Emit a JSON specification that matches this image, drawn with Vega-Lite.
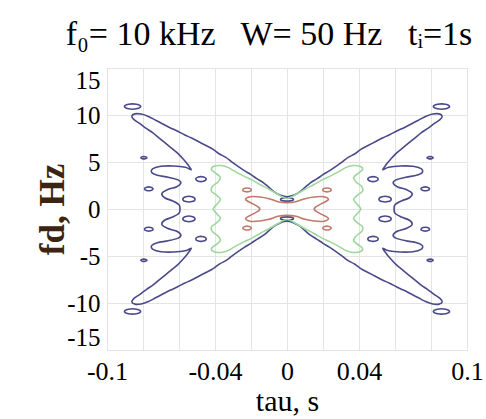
{
"$schema": "https://vega.github.io/schema/vega-lite/v6.json",
"autosize": {"type": "none"},
"padding": {"left": 107, "top": 68, "right": 19, "bottom": 69},
"width": 360,
"height": 282,
"title": {"text": "f₀= 10 kHz \u00a0 W= 50 Hz \u00a0 tᵢ=1s", "font": "Liberation Serif", "fontSize": 34, "fontWeight": "normal", "color": "#000000", "anchor": "middle", "dx": -18, "offset": 16},
"config": {"view": {"stroke": "#bdbdbd"}, "font": "Liberation Serif"},
"data": {"values": [
{"c":"m","k":"b","x":0,"y":1.31},{"c":"m","k":"b","x":-0.0035,"y":1.45},{"c":"m","k":"b","x":-0.0065,"y":1.75},{"c":"m","k":"b","x":-0.01,"y":2.3},{"c":"m","k":"b","x":-0.013,"y":2.78},{"c":"m","k":"b","x":-0.0165,"y":3.2},{"c":"m","k":"b","x":-0.02,"y":3.65},{"c":"m","k":"b","x":-0.0235,"y":4.05},{"c":"m","k":"b","x":-0.027,"y":4.5},{"c":"m","k":"b","x":-0.0305,"y":4.98},{"c":"m","k":"b","x":-0.034,"y":5.5},{"c":"m","k":"b","x":-0.0375,"y":5.85},{"c":"m","k":"b","x":-0.041,"y":6.35},{"c":"m","k":"b","x":-0.045,"y":6.75},{"c":"m","k":"b","x":-0.049,"y":7.15},{"c":"m","k":"b","x":-0.053,"y":7.55},{"c":"m","k":"b","x":-0.057,"y":7.9},{"c":"m","k":"b","x":-0.061,"y":8.3},{"c":"m","k":"b","x":-0.065,"y":8.65},{"c":"m","k":"b","x":-0.069,"y":9.05},{"c":"m","k":"b","x":-0.073,"y":9.45},{"c":"m","k":"b","x":-0.077,"y":9.85},{"c":"m","k":"b","x":-0.081,"y":10.1},{"c":"m","k":"b","x":-0.0845,"y":10.12},{"c":"m","k":"b","x":-0.0862,"y":9.88},
{"c":"m","k":"b","x":-0.085,"y":9.5},{"c":"m","k":"b","x":-0.0815,"y":9.05},{"c":"m","k":"b","x":-0.078,"y":8.55},{"c":"m","k":"b","x":-0.0745,"y":8.1},{"c":"m","k":"b","x":-0.071,"y":7.55},{"c":"m","k":"b","x":-0.0675,"y":7.0},{"c":"m","k":"b","x":-0.064,"y":6.45},{"c":"m","k":"b","x":-0.0605,"y":5.9},{"c":"m","k":"b","x":-0.0578,"y":5.35},{"c":"m","k":"b","x":-0.0552,"y":4.75},{"c":"m","k":"b","x":-0.0532,"y":4.18},
{"c":"m","k":"b","x":-0.0565,"y":4.45},{"c":"m","k":"b","x":-0.063,"y":4.58},{"c":"m","k":"b","x":-0.07,"y":4.55},{"c":"m","k":"b","x":-0.0745,"y":4.3},{"c":"m","k":"b","x":-0.0752,"y":3.9},{"c":"m","k":"b","x":-0.072,"y":3.58},{"c":"m","k":"b","x":-0.066,"y":3.38},{"c":"m","k":"b","x":-0.0605,"y":3.1},{"c":"m","k":"b","x":-0.059,"y":2.75},{"c":"m","k":"b","x":-0.0615,"y":2.35},{"c":"m","k":"b","x":-0.0665,"y":2.05},{"c":"m","k":"b","x":-0.0695,"y":1.65},{"c":"m","k":"b","x":-0.068,"y":1.2},{"c":"m","k":"b","x":-0.0635,"y":0.85},{"c":"m","k":"b","x":-0.06,"y":0.45},{"c":"m","k":"b","x":-0.0595,"y":0},
{"c":"m","k":"b","x":-0.06,"y":-0.45},{"c":"m","k":"b","x":-0.0635,"y":-0.85},{"c":"m","k":"b","x":-0.068,"y":-1.2},{"c":"m","k":"b","x":-0.0695,"y":-1.65},{"c":"m","k":"b","x":-0.0665,"y":-2.05},{"c":"m","k":"b","x":-0.0615,"y":-2.35},{"c":"m","k":"b","x":-0.059,"y":-2.75},{"c":"m","k":"b","x":-0.0605,"y":-3.1},{"c":"m","k":"b","x":-0.066,"y":-3.38},{"c":"m","k":"b","x":-0.072,"y":-3.58},{"c":"m","k":"b","x":-0.0752,"y":-3.9},{"c":"m","k":"b","x":-0.0745,"y":-4.3},{"c":"m","k":"b","x":-0.07,"y":-4.55},{"c":"m","k":"b","x":-0.063,"y":-4.58},{"c":"m","k":"b","x":-0.0565,"y":-4.45},
{"c":"m","k":"b","x":-0.0532,"y":-4.18},{"c":"m","k":"b","x":-0.0552,"y":-4.75},{"c":"m","k":"b","x":-0.0578,"y":-5.35},{"c":"m","k":"b","x":-0.0605,"y":-5.9},{"c":"m","k":"b","x":-0.064,"y":-6.45},{"c":"m","k":"b","x":-0.0675,"y":-7.0},{"c":"m","k":"b","x":-0.071,"y":-7.55},{"c":"m","k":"b","x":-0.0745,"y":-8.1},{"c":"m","k":"b","x":-0.078,"y":-8.55},{"c":"m","k":"b","x":-0.0815,"y":-9.05},{"c":"m","k":"b","x":-0.085,"y":-9.5},
{"c":"m","k":"b","x":-0.0862,"y":-9.88},{"c":"m","k":"b","x":-0.0845,"y":-10.12},{"c":"m","k":"b","x":-0.081,"y":-10.1},{"c":"m","k":"b","x":-0.077,"y":-9.85},{"c":"m","k":"b","x":-0.073,"y":-9.45},{"c":"m","k":"b","x":-0.069,"y":-9.05},{"c":"m","k":"b","x":-0.065,"y":-8.65},{"c":"m","k":"b","x":-0.061,"y":-8.3},{"c":"m","k":"b","x":-0.057,"y":-7.9},{"c":"m","k":"b","x":-0.053,"y":-7.55},{"c":"m","k":"b","x":-0.049,"y":-7.15},{"c":"m","k":"b","x":-0.045,"y":-6.75},{"c":"m","k":"b","x":-0.041,"y":-6.35},{"c":"m","k":"b","x":-0.0375,"y":-5.85},{"c":"m","k":"b","x":-0.034,"y":-5.5},{"c":"m","k":"b","x":-0.0305,"y":-4.98},{"c":"m","k":"b","x":-0.027,"y":-4.5},{"c":"m","k":"b","x":-0.0235,"y":-4.05},{"c":"m","k":"b","x":-0.02,"y":-3.65},{"c":"m","k":"b","x":-0.0165,"y":-3.2},{"c":"m","k":"b","x":-0.013,"y":-2.78},{"c":"m","k":"b","x":-0.01,"y":-2.3},{"c":"m","k":"b","x":-0.0065,"y":-1.75},{"c":"m","k":"b","x":-0.0035,"y":-1.45},{"c":"m","k":"b","x":0,"y":-1.31},
{"c":"m","k":"b","x":0.0035,"y":-1.45},{"c":"m","k":"b","x":0.0065,"y":-1.75},{"c":"m","k":"b","x":0.01,"y":-2.3},{"c":"m","k":"b","x":0.013,"y":-2.78},{"c":"m","k":"b","x":0.0165,"y":-3.2},{"c":"m","k":"b","x":0.02,"y":-3.65},{"c":"m","k":"b","x":0.0235,"y":-4.05},{"c":"m","k":"b","x":0.027,"y":-4.5},{"c":"m","k":"b","x":0.0305,"y":-4.98},{"c":"m","k":"b","x":0.034,"y":-5.5},{"c":"m","k":"b","x":0.0375,"y":-5.85},{"c":"m","k":"b","x":0.041,"y":-6.35},{"c":"m","k":"b","x":0.045,"y":-6.75},{"c":"m","k":"b","x":0.049,"y":-7.15},{"c":"m","k":"b","x":0.053,"y":-7.55},{"c":"m","k":"b","x":0.057,"y":-7.9},{"c":"m","k":"b","x":0.061,"y":-8.3},{"c":"m","k":"b","x":0.065,"y":-8.65},{"c":"m","k":"b","x":0.069,"y":-9.05},{"c":"m","k":"b","x":0.073,"y":-9.45},{"c":"m","k":"b","x":0.077,"y":-9.85},{"c":"m","k":"b","x":0.081,"y":-10.1},{"c":"m","k":"b","x":0.0845,"y":-10.12},{"c":"m","k":"b","x":0.0862,"y":-9.88},
{"c":"m","k":"b","x":0.085,"y":-9.5},{"c":"m","k":"b","x":0.0815,"y":-9.05},{"c":"m","k":"b","x":0.078,"y":-8.55},{"c":"m","k":"b","x":0.0745,"y":-8.1},{"c":"m","k":"b","x":0.071,"y":-7.55},{"c":"m","k":"b","x":0.0675,"y":-7.0},{"c":"m","k":"b","x":0.064,"y":-6.45},{"c":"m","k":"b","x":0.0605,"y":-5.9},{"c":"m","k":"b","x":0.0578,"y":-5.35},{"c":"m","k":"b","x":0.0552,"y":-4.75},{"c":"m","k":"b","x":0.0532,"y":-4.18},
{"c":"m","k":"b","x":0.0565,"y":-4.45},{"c":"m","k":"b","x":0.063,"y":-4.58},{"c":"m","k":"b","x":0.07,"y":-4.55},{"c":"m","k":"b","x":0.0745,"y":-4.3},{"c":"m","k":"b","x":0.0752,"y":-3.9},{"c":"m","k":"b","x":0.072,"y":-3.58},{"c":"m","k":"b","x":0.066,"y":-3.38},{"c":"m","k":"b","x":0.0605,"y":-3.1},{"c":"m","k":"b","x":0.059,"y":-2.75},{"c":"m","k":"b","x":0.0615,"y":-2.35},{"c":"m","k":"b","x":0.0665,"y":-2.05},{"c":"m","k":"b","x":0.0695,"y":-1.65},{"c":"m","k":"b","x":0.068,"y":-1.2},{"c":"m","k":"b","x":0.0635,"y":-0.85},{"c":"m","k":"b","x":0.06,"y":-0.45},{"c":"m","k":"b","x":0.0595,"y":0},
{"c":"m","k":"b","x":0.06,"y":0.45},{"c":"m","k":"b","x":0.0635,"y":0.85},{"c":"m","k":"b","x":0.068,"y":1.2},{"c":"m","k":"b","x":0.0695,"y":1.65},{"c":"m","k":"b","x":0.0665,"y":2.05},{"c":"m","k":"b","x":0.0615,"y":2.35},{"c":"m","k":"b","x":0.059,"y":2.75},{"c":"m","k":"b","x":0.0605,"y":3.1},{"c":"m","k":"b","x":0.066,"y":3.38},{"c":"m","k":"b","x":0.072,"y":3.58},{"c":"m","k":"b","x":0.0752,"y":3.9},{"c":"m","k":"b","x":0.0745,"y":4.3},{"c":"m","k":"b","x":0.07,"y":4.55},{"c":"m","k":"b","x":0.063,"y":4.58},{"c":"m","k":"b","x":0.0565,"y":4.45},
{"c":"m","k":"b","x":0.0532,"y":4.18},{"c":"m","k":"b","x":0.0552,"y":4.75},{"c":"m","k":"b","x":0.0578,"y":5.35},{"c":"m","k":"b","x":0.0605,"y":5.9},{"c":"m","k":"b","x":0.064,"y":6.45},{"c":"m","k":"b","x":0.0675,"y":7.0},{"c":"m","k":"b","x":0.071,"y":7.55},{"c":"m","k":"b","x":0.0745,"y":8.1},{"c":"m","k":"b","x":0.078,"y":8.55},{"c":"m","k":"b","x":0.0815,"y":9.05},{"c":"m","k":"b","x":0.085,"y":9.5},
{"c":"m","k":"b","x":0.0862,"y":9.88},{"c":"m","k":"b","x":0.0845,"y":10.12},{"c":"m","k":"b","x":0.081,"y":10.1},{"c":"m","k":"b","x":0.077,"y":9.85},{"c":"m","k":"b","x":0.073,"y":9.45},{"c":"m","k":"b","x":0.069,"y":9.05},{"c":"m","k":"b","x":0.065,"y":8.65},{"c":"m","k":"b","x":0.061,"y":8.3},{"c":"m","k":"b","x":0.057,"y":7.9},{"c":"m","k":"b","x":0.053,"y":7.55},{"c":"m","k":"b","x":0.049,"y":7.15},{"c":"m","k":"b","x":0.045,"y":6.75},{"c":"m","k":"b","x":0.041,"y":6.35},{"c":"m","k":"b","x":0.0375,"y":5.85},{"c":"m","k":"b","x":0.034,"y":5.5},{"c":"m","k":"b","x":0.0305,"y":4.98},{"c":"m","k":"b","x":0.027,"y":4.5},{"c":"m","k":"b","x":0.0235,"y":4.05},{"c":"m","k":"b","x":0.02,"y":3.65},{"c":"m","k":"b","x":0.0165,"y":3.2},{"c":"m","k":"b","x":0.013,"y":2.78},{"c":"m","k":"b","x":0.01,"y":2.3},{"c":"m","k":"b","x":0.0065,"y":1.75},{"c":"m","k":"b","x":0.0035,"y":1.45},

{"c":"tUL","k":"b","x":-0.0813,"y":10.9},{"c":"tUL","k":"b","x":-0.0836,"y":11.144},{"c":"tUL","k":"b","x":-0.0881,"y":11.144},{"c":"tUL","k":"b","x":-0.0903,"y":10.9},{"c":"tUL","k":"b","x":-0.0881,"y":10.656},{"c":"tUL","k":"b","x":-0.0836,"y":10.656},
{"c":"tUR","k":"b","x":0.0903,"y":10.9},{"c":"tUR","k":"b","x":0.0881,"y":11.144},{"c":"tUR","k":"b","x":0.0836,"y":11.144},{"c":"tUR","k":"b","x":0.0813,"y":10.9},{"c":"tUR","k":"b","x":0.0836,"y":10.656},{"c":"tUR","k":"b","x":0.0881,"y":10.656},
{"c":"tLL","k":"b","x":-0.0813,"y":-10.9},{"c":"tLL","k":"b","x":-0.0836,"y":-10.656},{"c":"tLL","k":"b","x":-0.0881,"y":-10.656},{"c":"tLL","k":"b","x":-0.0903,"y":-10.9},{"c":"tLL","k":"b","x":-0.0881,"y":-11.144},{"c":"tLL","k":"b","x":-0.0836,"y":-11.144},
{"c":"tLR","k":"b","x":0.0903,"y":-10.9},{"c":"tLR","k":"b","x":0.0881,"y":-10.656},{"c":"tLR","k":"b","x":0.0836,"y":-10.656},{"c":"tLR","k":"b","x":0.0813,"y":-10.9},{"c":"tLR","k":"b","x":0.0836,"y":-11.144},{"c":"tLR","k":"b","x":0.0881,"y":-11.144},

{"c":"d1","k":"b","x":-0.0778,"y":5.45},{"c":"d1","k":"b","x":-0.0787,"y":5.554},{"c":"d1","k":"b","x":-0.0804,"y":5.554},{"c":"d1","k":"b","x":-0.0812,"y":5.45},{"c":"d1","k":"b","x":-0.0804,"y":5.346},{"c":"d1","k":"b","x":-0.0787,"y":5.346},
{"c":"d2","k":"b","x":0.0812,"y":5.45},{"c":"d2","k":"b","x":0.0804,"y":5.554},{"c":"d2","k":"b","x":0.0787,"y":5.554},{"c":"d2","k":"b","x":0.0778,"y":5.45},{"c":"d2","k":"b","x":0.0787,"y":5.346},{"c":"d2","k":"b","x":0.0804,"y":5.346},
{"c":"d3","k":"b","x":-0.0778,"y":-5.45},{"c":"d3","k":"b","x":-0.0787,"y":-5.346},{"c":"d3","k":"b","x":-0.0804,"y":-5.346},{"c":"d3","k":"b","x":-0.0812,"y":-5.45},{"c":"d3","k":"b","x":-0.0804,"y":-5.554},{"c":"d3","k":"b","x":-0.0787,"y":-5.554},
{"c":"d4","k":"b","x":0.0812,"y":-5.45},{"c":"d4","k":"b","x":0.0804,"y":-5.346},{"c":"d4","k":"b","x":0.0787,"y":-5.346},{"c":"d4","k":"b","x":0.0778,"y":-5.45},{"c":"d4","k":"b","x":0.0787,"y":-5.554},{"c":"d4","k":"b","x":0.0804,"y":-5.554},

{"c":"l1","k":"b","x":-0.0744,"y":2.15},{"c":"l1","k":"b","x":-0.0756,"y":2.324},{"c":"l1","k":"b","x":-0.078,"y":2.324},{"c":"l1","k":"b","x":-0.0792,"y":2.15},{"c":"l1","k":"b","x":-0.078,"y":1.976},{"c":"l1","k":"b","x":-0.0756,"y":1.976},
{"c":"l2","k":"b","x":0.0792,"y":2.15},{"c":"l2","k":"b","x":0.078,"y":2.324},{"c":"l2","k":"b","x":0.0756,"y":2.324},{"c":"l2","k":"b","x":0.0744,"y":2.15},{"c":"l2","k":"b","x":0.0756,"y":1.976},{"c":"l2","k":"b","x":0.078,"y":1.976},
{"c":"l3","k":"b","x":-0.0744,"y":-2.15},{"c":"l3","k":"b","x":-0.0756,"y":-1.976},{"c":"l3","k":"b","x":-0.078,"y":-1.976},{"c":"l3","k":"b","x":-0.0792,"y":-2.15},{"c":"l3","k":"b","x":-0.078,"y":-2.324},{"c":"l3","k":"b","x":-0.0756,"y":-2.324},
{"c":"l4","k":"b","x":0.0792,"y":-2.15},{"c":"l4","k":"b","x":0.078,"y":-1.976},{"c":"l4","k":"b","x":0.0756,"y":-1.976},{"c":"l4","k":"b","x":0.0744,"y":-2.15},{"c":"l4","k":"b","x":0.0756,"y":-2.324},{"c":"l4","k":"b","x":0.078,"y":-2.324},

{"c":"a1","k":"b","x":-0.0449,"y":3.18},{"c":"a1","k":"b","x":-0.0464,"y":3.406},{"c":"a1","k":"b","x":-0.0493,"y":3.406},{"c":"a1","k":"b","x":-0.0507,"y":3.18},{"c":"a1","k":"b","x":-0.0493,"y":2.954},{"c":"a1","k":"b","x":-0.0464,"y":2.954},
{"c":"a2","k":"b","x":0.0507,"y":3.18},{"c":"a2","k":"b","x":0.0493,"y":3.406},{"c":"a2","k":"b","x":0.0464,"y":3.406},{"c":"a2","k":"b","x":0.0449,"y":3.18},{"c":"a2","k":"b","x":0.0464,"y":2.954},{"c":"a2","k":"b","x":0.0493,"y":2.954},
{"c":"a3","k":"b","x":-0.0449,"y":-3.18},{"c":"a3","k":"b","x":-0.0464,"y":-2.954},{"c":"a3","k":"b","x":-0.0493,"y":-2.954},{"c":"a3","k":"b","x":-0.0507,"y":-3.18},{"c":"a3","k":"b","x":-0.0493,"y":-3.406},{"c":"a3","k":"b","x":-0.0464,"y":-3.406},
{"c":"a4","k":"b","x":0.0507,"y":-3.18},{"c":"a4","k":"b","x":0.0493,"y":-2.954},{"c":"a4","k":"b","x":0.0464,"y":-2.954},{"c":"a4","k":"b","x":0.0449,"y":-3.18},{"c":"a4","k":"b","x":0.0464,"y":-3.406},{"c":"a4","k":"b","x":0.0493,"y":-3.406},

{"c":"b1","k":"b","x":-0.0511,"y":1.05},{"c":"b1","k":"b","x":-0.0528,"y":1.311},{"c":"b1","k":"b","x":-0.0562,"y":1.311},{"c":"b1","k":"b","x":-0.0579,"y":1.05},{"c":"b1","k":"b","x":-0.0562,"y":0.789},{"c":"b1","k":"b","x":-0.0528,"y":0.789},
{"c":"b2","k":"b","x":0.0579,"y":1.05},{"c":"b2","k":"b","x":0.0562,"y":1.311},{"c":"b2","k":"b","x":0.0528,"y":1.311},{"c":"b2","k":"b","x":0.0511,"y":1.05},{"c":"b2","k":"b","x":0.0528,"y":0.789},{"c":"b2","k":"b","x":0.0562,"y":0.789},
{"c":"b3","k":"b","x":-0.0511,"y":-1.05},{"c":"b3","k":"b","x":-0.0528,"y":-0.789},{"c":"b3","k":"b","x":-0.0562,"y":-0.789},{"c":"b3","k":"b","x":-0.0579,"y":-1.05},{"c":"b3","k":"b","x":-0.0562,"y":-1.311},{"c":"b3","k":"b","x":-0.0528,"y":-1.311},
{"c":"b4","k":"b","x":0.0579,"y":-1.05},{"c":"b4","k":"b","x":0.0562,"y":-0.789},{"c":"b4","k":"b","x":0.0528,"y":-0.789},{"c":"b4","k":"b","x":0.0511,"y":-1.05},{"c":"b4","k":"b","x":0.0528,"y":-1.311},{"c":"b4","k":"b","x":0.0562,"y":-1.311},

{"c":"c1","k":"b","x":0.0036,"y":1.02},{"c":"c1","k":"b","x":0.0018,"y":1.177},{"c":"c1","k":"b","x":-0.0018,"y":1.177},{"c":"c1","k":"b","x":-0.0036,"y":1.02},{"c":"c1","k":"b","x":-0.0018,"y":0.863},{"c":"c1","k":"b","x":0.0018,"y":0.863},
{"c":"c2","k":"b","x":0.0036,"y":-1.02},{"c":"c2","k":"b","x":0.0018,"y":-0.863},{"c":"c2","k":"b","x":-0.0018,"y":-0.863},{"c":"c2","k":"b","x":-0.0036,"y":-1.02},{"c":"c2","k":"b","x":-0.0018,"y":-1.177},{"c":"c2","k":"b","x":0.0018,"y":-1.177},

{"c":"g","k":"g","x":0,"y":1.12},{"c":"g","k":"g","x":-0.005,"y":1.55},{"c":"g","k":"g","x":-0.01,"y":2.1},{"c":"g","k":"g","x":-0.015,"y":2.6},{"c":"g","k":"g","x":-0.0195,"y":3.1},{"c":"g","k":"g","x":-0.024,"y":3.5},{"c":"g","k":"g","x":-0.0285,"y":3.95},{"c":"g","k":"g","x":-0.0325,"y":4.4},{"c":"g","k":"g","x":-0.0365,"y":4.62},{"c":"g","k":"g","x":-0.0405,"y":4.55},{"c":"g","k":"g","x":-0.042,"y":4.2},{"c":"g","k":"g","x":-0.0395,"y":3.8},{"c":"g","k":"g","x":-0.037,"y":3.35},{"c":"g","k":"g","x":-0.0385,"y":2.85},{"c":"g","k":"g","x":-0.0415,"y":2.4},{"c":"g","k":"g","x":-0.042,"y":1.9},{"c":"g","k":"g","x":-0.039,"y":1.45},{"c":"g","k":"g","x":-0.037,"y":1.0},{"c":"g","k":"g","x":-0.039,"y":0.5},{"c":"g","k":"g","x":-0.041,"y":0},
{"c":"g","k":"g","x":-0.039,"y":-0.5},{"c":"g","k":"g","x":-0.037,"y":-1.0},{"c":"g","k":"g","x":-0.039,"y":-1.45},{"c":"g","k":"g","x":-0.042,"y":-1.9},{"c":"g","k":"g","x":-0.0415,"y":-2.4},{"c":"g","k":"g","x":-0.0385,"y":-2.85},{"c":"g","k":"g","x":-0.037,"y":-3.35},{"c":"g","k":"g","x":-0.0395,"y":-3.8},{"c":"g","k":"g","x":-0.042,"y":-4.2},{"c":"g","k":"g","x":-0.0405,"y":-4.55},{"c":"g","k":"g","x":-0.0365,"y":-4.62},{"c":"g","k":"g","x":-0.0325,"y":-4.4},{"c":"g","k":"g","x":-0.0285,"y":-3.95},{"c":"g","k":"g","x":-0.024,"y":-3.5},{"c":"g","k":"g","x":-0.0195,"y":-3.1},{"c":"g","k":"g","x":-0.015,"y":-2.6},{"c":"g","k":"g","x":-0.01,"y":-2.1},{"c":"g","k":"g","x":-0.005,"y":-1.55},{"c":"g","k":"g","x":0,"y":-1.12},
{"c":"g","k":"g","x":0.005,"y":-1.55},{"c":"g","k":"g","x":0.01,"y":-2.1},{"c":"g","k":"g","x":0.015,"y":-2.6},{"c":"g","k":"g","x":0.0195,"y":-3.1},{"c":"g","k":"g","x":0.024,"y":-3.5},{"c":"g","k":"g","x":0.0285,"y":-3.95},{"c":"g","k":"g","x":0.0325,"y":-4.4},{"c":"g","k":"g","x":0.0365,"y":-4.62},{"c":"g","k":"g","x":0.0405,"y":-4.55},{"c":"g","k":"g","x":0.042,"y":-4.2},{"c":"g","k":"g","x":0.0395,"y":-3.8},{"c":"g","k":"g","x":0.037,"y":-3.35},{"c":"g","k":"g","x":0.0385,"y":-2.85},{"c":"g","k":"g","x":0.0415,"y":-2.4},{"c":"g","k":"g","x":0.042,"y":-1.9},{"c":"g","k":"g","x":0.039,"y":-1.45},{"c":"g","k":"g","x":0.037,"y":-1.0},{"c":"g","k":"g","x":0.039,"y":-0.5},{"c":"g","k":"g","x":0.041,"y":0},
{"c":"g","k":"g","x":0.039,"y":0.5},{"c":"g","k":"g","x":0.037,"y":1.0},{"c":"g","k":"g","x":0.039,"y":1.45},{"c":"g","k":"g","x":0.042,"y":1.9},{"c":"g","k":"g","x":0.0415,"y":2.4},{"c":"g","k":"g","x":0.0385,"y":2.85},{"c":"g","k":"g","x":0.037,"y":3.35},{"c":"g","k":"g","x":0.0395,"y":3.8},{"c":"g","k":"g","x":0.042,"y":4.2},{"c":"g","k":"g","x":0.0405,"y":4.55},{"c":"g","k":"g","x":0.0365,"y":4.62},{"c":"g","k":"g","x":0.0325,"y":4.4},{"c":"g","k":"g","x":0.0285,"y":3.95},{"c":"g","k":"g","x":0.024,"y":3.5},{"c":"g","k":"g","x":0.0195,"y":3.1},{"c":"g","k":"g","x":0.015,"y":2.6},{"c":"g","k":"g","x":0.01,"y":2.1},{"c":"g","k":"g","x":0.005,"y":1.55},

{"c":"r","k":"r","x":-0.0205,"y":1.3},{"c":"r","k":"r","x":-0.015,"y":1.28},{"c":"r","k":"r","x":-0.01,"y":1.1},{"c":"r","k":"r","x":-0.005,"y":0.78},{"c":"r","k":"r","x":0,"y":0.68},{"c":"r","k":"r","x":0.005,"y":0.78},{"c":"r","k":"r","x":0.01,"y":1.1},{"c":"r","k":"r","x":0.015,"y":1.28},{"c":"r","k":"r","x":0.0205,"y":1.3},{"c":"r","k":"r","x":0.023,"y":1.0},{"c":"r","k":"r","x":0.019,"y":0.55},{"c":"r","k":"r","x":0.0155,"y":0.15},{"c":"r","k":"r","x":0.0155,"y":-0.15},{"c":"r","k":"r","x":0.019,"y":-0.55},{"c":"r","k":"r","x":0.023,"y":-1.0},{"c":"r","k":"r","x":0.0205,"y":-1.3},{"c":"r","k":"r","x":0.015,"y":-1.28},{"c":"r","k":"r","x":0.01,"y":-1.1},{"c":"r","k":"r","x":0.005,"y":-0.78},{"c":"r","k":"r","x":0,"y":-0.68},{"c":"r","k":"r","x":-0.005,"y":-0.78},{"c":"r","k":"r","x":-0.01,"y":-1.1},{"c":"r","k":"r","x":-0.015,"y":-1.28},{"c":"r","k":"r","x":-0.0205,"y":-1.3},{"c":"r","k":"r","x":-0.023,"y":-1.0},{"c":"r","k":"r","x":-0.019,"y":-0.55},{"c":"r","k":"r","x":-0.0155,"y":-0.15},{"c":"r","k":"r","x":-0.0155,"y":0.15},{"c":"r","k":"r","x":-0.019,"y":0.55},{"c":"r","k":"r","x":-0.023,"y":1.0},

{"c":"r1","k":"r","x":-0.0198,"y":2.03},{"c":"r1","k":"r","x":-0.021,"y":2.204},{"c":"r1","k":"r","x":-0.0234,"y":2.204},{"c":"r1","k":"r","x":-0.0246,"y":2.03},{"c":"r1","k":"r","x":-0.0234,"y":1.856},{"c":"r1","k":"r","x":-0.021,"y":1.856},
{"c":"r2","k":"r","x":0.0246,"y":2.03},{"c":"r2","k":"r","x":0.0234,"y":2.204},{"c":"r2","k":"r","x":0.021,"y":2.204},{"c":"r2","k":"r","x":0.0198,"y":2.03},{"c":"r2","k":"r","x":0.021,"y":1.856},{"c":"r2","k":"r","x":0.0234,"y":1.856},
{"c":"r3","k":"r","x":-0.0198,"y":-2.03},{"c":"r3","k":"r","x":-0.021,"y":-1.856},{"c":"r3","k":"r","x":-0.0234,"y":-1.856},{"c":"r3","k":"r","x":-0.0246,"y":-2.03},{"c":"r3","k":"r","x":-0.0234,"y":-2.204},{"c":"r3","k":"r","x":-0.021,"y":-2.204},
{"c":"r4","k":"r","x":0.0246,"y":-2.03},{"c":"r4","k":"r","x":0.0234,"y":-1.856},{"c":"r4","k":"r","x":0.021,"y":-1.856},{"c":"r4","k":"r","x":0.0198,"y":-2.03},{"c":"r4","k":"r","x":0.021,"y":-2.204},{"c":"r4","k":"r","x":0.0234,"y":-2.204}
]},
"mark": {"type": "line", "interpolate": "cardinal-closed", "strokeWidth": 1.6, "clip": true},
"encoding": {
"x": {"field": "x", "type": "quantitative", "scale": {"domain": [-0.1, 0.1], "nice": false, "zero": false},
"axis": {"values": [-0.1, -0.08, -0.06, -0.04, -0.02, 0, 0.02, 0.04, 0.06, 0.08, 0.1],
"labelExpr": "indexof([-0.1, -0.04, 0, 0.04, 0.1], datum.value) >= 0 ? (datum.value < 0 ? '-' : '') + abs(datum.value) : ''",
"grid": true, "gridColor": "#e4e4e4", "ticks": false, "domain": false,
"labelFont": "Liberation Serif", "labelFontSize": 26, "labelColor": "#000000", "labelPadding": 8, "labelOverlap": false, "labelFlush": false, "labelBound": false,
"title": "tau, s", "titleFont": "Liberation Serif", "titleFontSize": 30, "titleFontWeight": "normal", "titleColor": "#000000", "titlePadding": 2}},
"y": {"field": "y", "type": "quantitative", "scale": {"domain": [-15, 15], "nice": false, "zero": false},
"axis": {"values": [-15, -10, -5, 0, 5, 10, 15],
"labelExpr": "(datum.value < 0 ? '-' : '') + abs(datum.value)",
"grid": true, "gridColor": "#e4e4e4", "ticks": false, "domain": false,
"labelFont": "Liberation Serif", "labelFontSize": 25, "labelColor": "#000000", "labelPadding": 7, "labelOverlap": false, "labelFlush": true, "labelFlushOffset": 0, "labelBound": false,
"title": "fd, Hz", "titleFont": "Liberation Serif", "titleFontSize": 35, "titleFontWeight": "bold", "titleColor": "#3d2410", "titlePadding": -4}},
"color": {"field": "k", "type": "nominal", "scale": {"domain": ["b", "g", "r"], "range": ["#4a4a8a", "#9cd89c", "#c07a6c"]}, "legend": null},
"detail": {"field": "c", "type": "nominal"},
"order": {"value": null}
}
}
